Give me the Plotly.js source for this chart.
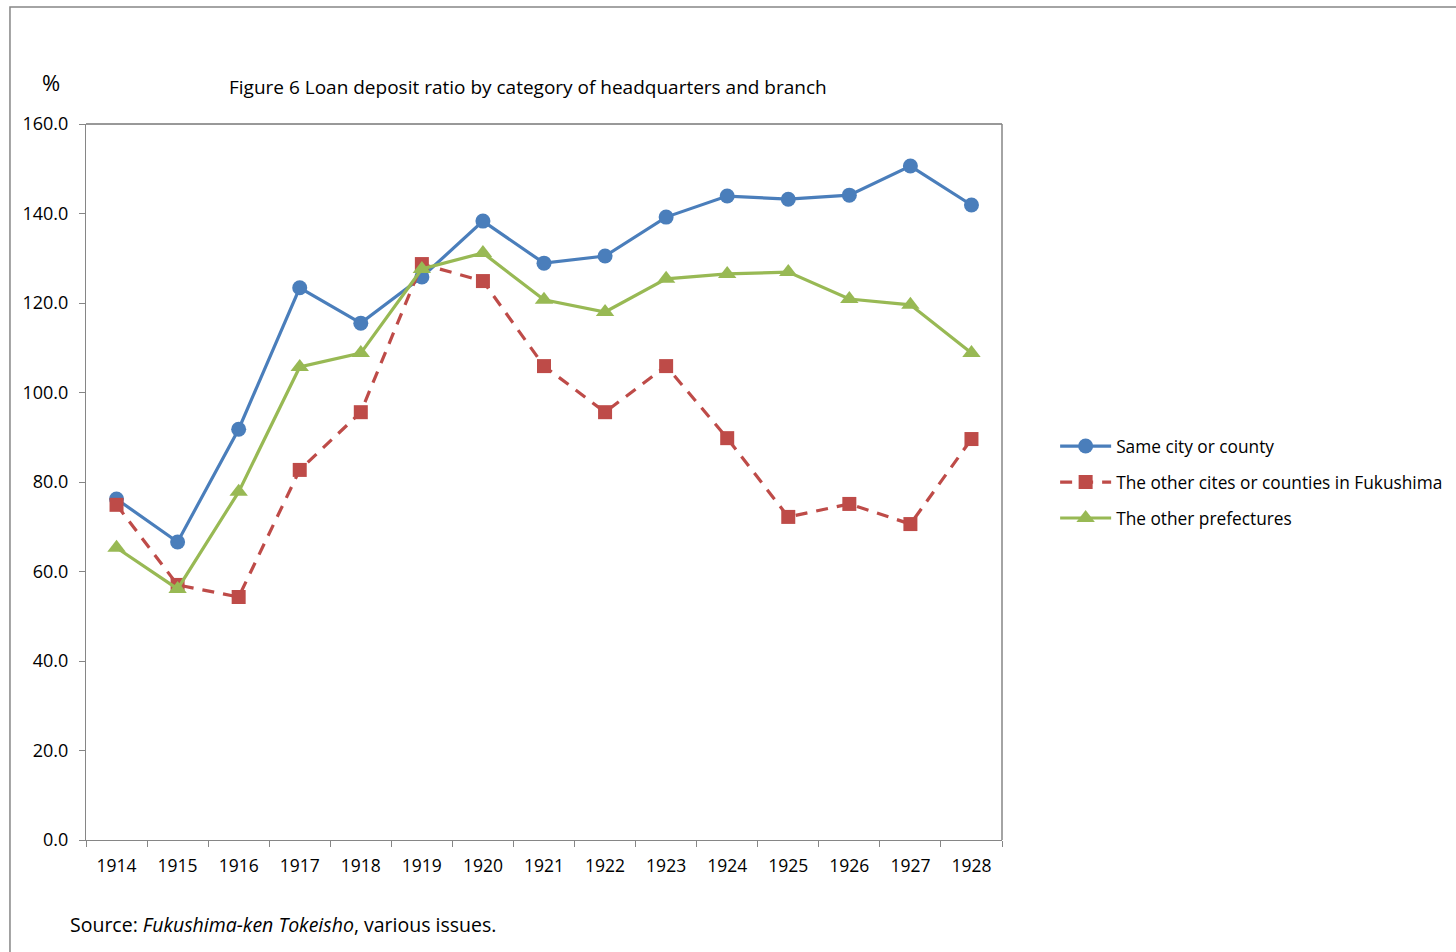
<!DOCTYPE html>
<html>
<head>
<meta charset="utf-8">
<script src="https://cdn.plot.ly/plotly-3.0.1.min.js"></script>
<style>
html,body{margin:0;padding:0;background:#fff;}
#chart{width:1456px;height:952px;}
</style>
</head>
<body>
<div id="chart"></div>
<script>
const years = ["1914","1915","1916","1917","1918","1919","1920","1921","1922","1923","1924","1925","1926","1927","1928"];
const sameCity = [76.2,66.6,91.8,123.4,115.5,125.8,138.3,128.9,130.5,139.2,143.9,143.2,144.1,150.6,141.9];
const otherCities = [74.9,57.0,54.3,82.7,95.6,128.7,124.9,105.9,95.6,105.9,89.8,72.2,75.1,70.6,89.6];
const otherPrefs = [65.3,56.1,77.8,105.7,108.8,127.6,131.2,120.7,118.0,125.4,126.5,126.9,120.9,119.6,108.8];
const seriesNames = ["Same city or county","The other cites or counties in Fukushima","The other prefectures"];
const yTicks = [0,20,40,60,80,100,120,140,160];

const FONT = "Open Sans, Noto Sans, sans-serif";

const traces = [
  {x: years, y: sameCity, name: seriesNames[0], type: "scatter", mode: "lines+markers",
   legendgroup: "a",
   line: {color: "#4A7EBB", width: 3.2}, marker: {symbol: "circle", size: 15, color: "#4A7EBB"}},
  {x: years, y: otherCities, name: seriesNames[1], type: "scatter", mode: "lines+markers",
   legendgroup: "b",
   line: {color: "#BE4B48", width: 3.2, dash: "12px,9px"}, marker: {symbol: "square", size: 14, color: "#BE4B48"}},
  {x: years, y: otherPrefs, name: seriesNames[2], type: "scatter", mode: "lines+markers",
   legendgroup: "c",
   line: {color: "#98B954", width: 3.2}, marker: {symbol: "triangle-up", size: 16, color: "#98B954"}}
];

const layout = {
  width: 1456, height: 952,
  margin: {l: 86, r: 454, t: 124, b: 112, pad: 0, autoexpand: false},
  paper_bgcolor: "#fff", plot_bgcolor: "#fff",
  font: {family: FONT, size: 17, color: "#000"},
  showlegend: true,
  legend: {x: 1.058, y: 0.575, xanchor: "left", yanchor: "top",
           font: {family: FONT, size: 17.3, color: "#000"},
           traceorder: "grouped", tracegroupgap: 10.5, itemwidth: 51, bgcolor: "rgba(0,0,0,0)"},
  xaxis: {type: "category", range: [-0.5, 14.5], tickson: "boundaries", ticks: "outside",
          ticklen: 6, tickcolor: "#868686", showline: true, linecolor: "#868686", linewidth: 1,
          showgrid: false, zeroline: false, fixedrange: true, ticklabelstandoff: 10,
          tickfont: {family: FONT, size: 17.5, color: "#000"}},
  yaxis: {range: [0, 160], tickvals: yTicks, ticktext: yTicks.map(v => v.toFixed(1)),
          ticks: "outside", ticklen: 6, tickcolor: "#868686",
          showline: true, linecolor: "#868686", linewidth: 1, mirror: false,
          showgrid: false, zeroline: false, fixedrange: true, ticklabelstandoff: 7,
          tickfont: {family: FONT, size: 18, color: "#000"}},
  shapes: [
    {type: "line", xref: "paper", yref: "paper", x0: 0, x1: 1, y0: 1, y1: 1,
     line: {color: "#333", width: 1}},
    {type: "line", xref: "paper", yref: "paper", x0: 1, x1: 1, y0: 0, y1: 1,
     line: {color: "#868686", width: 1.5}},
    {type: "rect", xref: "paper", yref: "paper", x0: -0.0830, x1: 1.7, y0: -0.2, y1: 1.1634,
     line: {color: "#868686", width: 1.5}, fillcolor: "rgba(0,0,0,0)", layer: "below"}
  ],
  annotations: [
    {text: "Figure 6 Loan deposit ratio by category of headquarters and branch",
     xref: "paper", yref: "paper", x: (227-86)/916, y: (840-87)/716,
     xanchor: "left", yanchor: "middle", showarrow: false,
     font: {family: FONT, size: 19, color: "#000"}},
    {text: "%", xref: "paper", yref: "paper", x: (51-86)/916, y: (840-82)/716,
     xanchor: "center", yanchor: "middle", showarrow: false,
     font: {family: FONT, size: 22, color: "#000"}},
    {text: "Source: <i>Fukushima-ken Tokeisho</i>, various issues.",
     xref: "paper", yref: "paper", x: (68-86)/916, y: (840-924)/716,
     xanchor: "left", yanchor: "middle", showarrow: false,
     font: {family: FONT, size: 19.5, color: "#000"}}
  ]
};

Plotly.newPlot("chart", traces, layout, {displayModeBar: false, staticPlot: true});
</script>
</body>
</html>
